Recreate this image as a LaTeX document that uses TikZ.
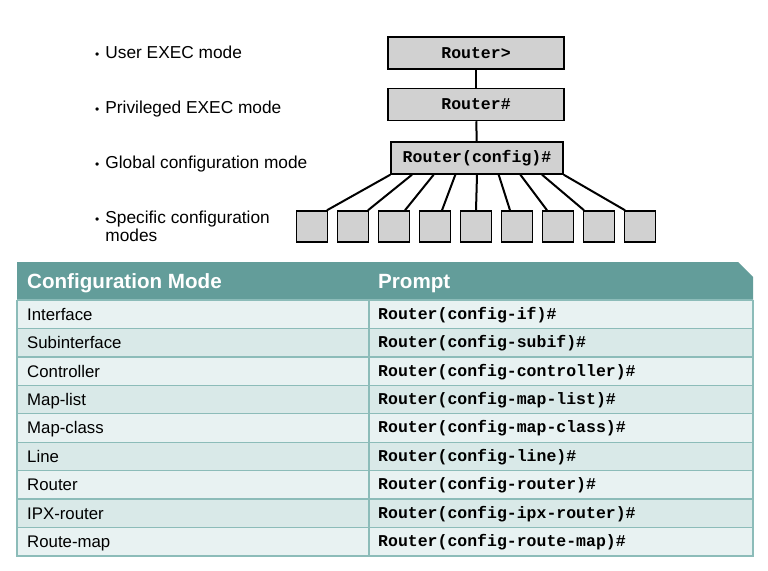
\documentclass[tikz,border=0pt]{standalone}
\usepackage{fontspec}
\setmainfont{Liberation Sans}
\setmonofont{Liberation Mono}
\usetikzlibrary{positioning,calc}
\definecolor{boxgray}{RGB}{209,209,209}
\definecolor{teal}{RGB}{99,157,154}
\definecolor{rowlight}{RGB}{232,242,242}
\definecolor{rowdark}{RGB}{217,233,232}
\definecolor{gridline}{RGB}{140,188,185}
\newcommand{\modedot}{{\fontsize{12}{12}\selectfont\textbullet}\hspace{6pt}}

\begin{document}
\begin{tikzpicture}[x=1pt, y=-1pt,
    modebox/.style={rectangle, draw=black, line width=1.5pt, fill=boxgray, minimum width=176pt, minimum height=32pt, inner sep=0pt, font=\fontsize{16.5}{18}\selectfont\ttfamily\bfseries},
    subbox/.style={rectangle, draw=black, line width=1.5pt, fill=boxgray, minimum width=31pt, minimum height=31pt, inner sep=0pt},
    label/.style={anchor=west, inner sep=0pt, align=left, font=\fontsize{17.3}{18}\selectfont},
    link/.style={line width=2pt, black},
    cell/.style={anchor=base west, inner sep=0pt, font=\fontsize{16.8}{18}\selectfont},
    code/.style={anchor=base west, inner sep=0pt, font=\fontsize{16.5}{18}\selectfont\ttfamily\bfseries}]

    \useasboundingbox (0,0) rectangle (768,570);

    % Mode labels
    \node[label] (lbuser) at (95,52) {\modedot User EXEC mode};
    \node[label] (lbpriv) at (95,109) {\modedot Privileged EXEC mode};
    \node[label] (lbglob) at (95,164) {\modedot Global configuration mode};
    \node[label] (lbspec) at (95,226) {\modedot Specific configuration\\\phantom{\modedot}modes};

    % Mode hierarchy
    \node[modebox] (user) at (476,53) {Router>};
    \node[modebox] (priv) at (476,104.5) {Router\#};
    \node[modebox, minimum width=172pt] (glob) at (477,158) {Router(config)\#};

    \draw[link] (user) -- (priv);
    \draw[link] (priv) -- (glob);

    \foreach \i/\off in {1/15,2/15,3/11,4/7,5/0,6/-7,7/-11,8/-15,9/-15} {
        \node[subbox] (spec\i) at ({271+41*\i},226.5) {};
        \draw[link] ($(glob.south west)!{(\i-1)/8}!(glob.south east)$) -- ([xshift=\off pt]spec\i.north);
    }

    % Table
    \fill[teal] (17,262) -- (738,262) -- (753,277) -- (753,300) -- (17,300) -- cycle;
    \foreach \i in {0,...,8} {
        \pgfmathsetmacro{\ytop}{300+28.44*\i}
        \ifodd\i
            \fill[rowdark] (17,\ytop) rectangle (753,\ytop+28.44);
        \else
            \fill[rowlight] (17,\ytop) rectangle (753,\ytop+28.44);
        \fi
        \draw[gridline, line width=1.3pt] (17,\ytop) -- (753,\ytop);
    }
    \draw[gridline, line width=1.3pt] (369,300) -- (369,556);
    \draw[gridline, line width=1.3pt] (17,300) -- (17,556) -- (753,556) -- (753,300);

    \node[cell, text=white, font=\fontsize{20.6}{22}\selectfont\bfseries] (hdmode) at (27,288.5) {Configuration Mode};
    \node[cell, text=white, font=\fontsize{20.6}{22}\selectfont\bfseries] (hdprompt) at (378,288.5) {Prompt};

    \foreach \name/\mode [count=\i] in {Interface/if, Subinterface/subif, Controller/controller,
        Map-list/map-list, Map-class/map-class, Line/line, Router/router,
        IPX-router/ipx-router, Route-map/route-map} {
        \node[cell] (mode\i) at (27,{300+28.44*(\i-0.5)+6}) {\name};
        \node[code] (prompt\i) at (378,{300+28.44*(\i-0.5)+5}) {Router(config-\mode)\#};
    }

\end{tikzpicture}
\end{document}
